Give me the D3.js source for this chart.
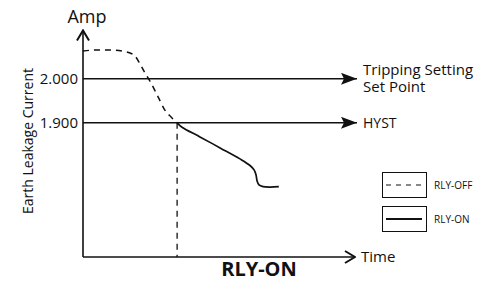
<!DOCTYPE html>
<html><head><meta charset="utf-8">
<script src="https://cdn.jsdelivr.net/npm/d3@7"></script>
<style>body{margin:0;background:#fff}svg{display:block}text{font-family:"Open Sans",sans-serif;fill:#111}</style>
</head><body><svg id="c" width="477" height="281"></svg>
<script>
// Data
const thresholdValues = [2.0, 1.9];
const thresholdLabels = [["Tripping Setting", "Set Point"], ["HYST"]];
const offTime = [0, 4.8, 9.9, 14.3, 17.3, 19.1, 21, 22.8, 24.6, 27.6, 30.1, 32.4, 34.6];
const offAmp  = [2.063, 2.0655, 2.0655, 2.063, 2.0586, 2.052, 2.0336, 2.013, 1.995, 1.959, 1.929, 1.913, 1.900];
const onTime = [34.6, 36.4, 43, 50.4, 57.7, 61.4, 62.9, 63.6, 64, 64.7, 66.2, 68.8, 72];
const onAmp  = [1.900, 1.890, 1.868, 1.843, 1.818, 1.803, 1.793, 1.782, 1.768, 1.759, 1.755, 1.754, 1.755];
const tripTime = 34.6;
const legendLabels = ["RLY-OFF", "RLY-ON"];

const svg = d3.select("#c");
const x = d3.scaleLinear().domain([0, 100]).range([83, 355]);
const y = d3.scaleLinear().domain([1.595, 2.11]).range([257, 30.4]);
const ink = "#111";

svg.append("defs").call(d => {
  d.append("marker").attr("id","fa").attr("viewBox","0 0 16 12").attr("refX",16).attr("refY",6)
    .attr("markerWidth",16).attr("markerHeight",12).attr("markerUnits","userSpaceOnUse").attr("orient","auto")
    .append("path").attr("d","M0,0 L16,6 L0,12 L3,6 Z").attr("fill",ink);
  d.append("marker").attr("id","oa").attr("viewBox","0 0 12 14").attr("refX",11).attr("refY",7)
    .attr("markerWidth",12).attr("markerHeight",14).attr("markerUnits","userSpaceOnUse").attr("orient","auto")
    .append("path").attr("d","M1,1 L11,7 L1,13").attr("fill","none").attr("stroke",ink).attr("stroke-width",2);
});

// axes
svg.append("line").attr("x1",x(0)).attr("x2",x(0)).attr("y1",y(1.595)).attr("y2",y(2.11))
  .attr("stroke",ink).attr("stroke-width",1.6).attr("marker-end","url(#oa)");
svg.append("line").attr("x1",x(0)).attr("x2",x(100)).attr("y1",y(1.595)).attr("y2",y(1.595))
  .attr("stroke",ink).attr("stroke-width",1.6).attr("marker-end","url(#oa)");

const yAxis = d3.axisLeft(y).tickValues(thresholdValues).tickSize(0).tickPadding(5).tickFormat(d3.format(".3f"));
const ga = svg.append("g").attr("transform",`translate(${x(0)},0)`).call(yAxis);
ga.select(".domain").remove();
ga.selectAll("text").style("font-family","'Open Sans',sans-serif").style("font-size","15px").attr("fill",ink);

// threshold lines
thresholdValues.forEach((v,i) => {
  svg.append("line").attr("x1",x(0)).attr("x2",x(100)+2).attr("y1",y(v)).attr("y2",y(v))
    .attr("stroke",ink).attr("stroke-width",1.4).attr("marker-end","url(#fa)");
  const lines = thresholdLabels[i];
  lines.forEach((s,j) => svg.append("text").attr("font-size",lines.length>1?"15px":"14px")
    .attr("x",363)
    .attr("y", lines.length>1 ? y(v) - 4 + j*17 : y(v))
    .attr("dy", lines.length>1 ? 0 : "0.36em").text(s));
});

// curves
const line = d3.line().x(d=>x(d[0])).y(d=>y(d[1])).curve(d3.curveMonotoneX);
svg.append("path").datum(offTime.map((t,i)=>[t,offAmp[i]])).attr("d",line)
  .attr("fill","none").attr("stroke",ink).attr("stroke-width",1.5).attr("stroke-dasharray","6,5");
const line2 = d3.line().x(d=>x(d[0])).y(d=>y(d[1])).curve(d3.curveCatmullRom);
svg.append("path").datum(onTime.map((t,i)=>[t,onAmp[i]])).attr("d",line2)
  .attr("fill","none").attr("stroke",ink).attr("stroke-width",1.7);
svg.append("line").attr("x1",x(tripTime)).attr("x2",x(tripTime)).attr("y1",y(1.9)).attr("y2",y(1.595))
  .attr("stroke",ink).attr("stroke-width",1.3).attr("stroke-dasharray","6,5");

// labels
svg.append("text").attr("x",87).attr("y",23).attr("text-anchor","middle").attr("font-size","18px").text("Amp");
svg.append("text").attr("transform","translate(33,141) rotate(-90)").attr("text-anchor","middle")
  .attr("font-size","14px").text("Earth Leakage Current");
svg.append("text").attr("x",361).attr("y",262).attr("font-size","15px").text("Time");
svg.append("text").attr("x",259).attr("y",276).attr("text-anchor","middle").attr("font-size","20px")
  .attr("font-weight","bold").text("RLY-ON");

// legend
legendLabels.forEach((s,i) => {
  const top = 172 + i*34;
  svg.append("rect").attr("x",382.5).attr("y",top+0.5).attr("width",44).attr("height",25)
    .attr("fill","none").attr("stroke",ink).attr("stroke-width",1);
  svg.append("line").attr("x1",386).attr("x2",422).attr("y1",top+13).attr("y2",top+13)
    .attr("stroke",ink).attr("stroke-width",i===0?1:1.8).attr("stroke-dasharray",i===0?"5,5":null);
  svg.append("text").attr("x",434).attr("y",top+13).attr("dy","0.35em").attr("font-size","10px").text(s);
});
</script></body></html>
